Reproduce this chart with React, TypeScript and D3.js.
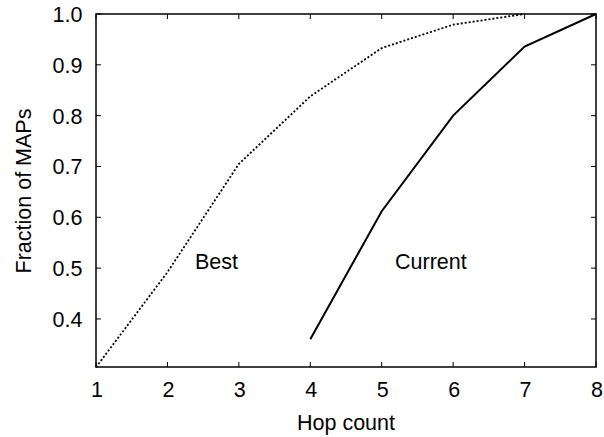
import React from "react";
import * as d3 from "d3";

const hops = [1, 2, 3, 4, 5, 6, 7, 8];
const bestX = [1, 2, 3, 4, 5, 6, 7];
const bestY = [0.305, 0.492, 0.705, 0.838, 0.933, 0.979, 1.0];
const currentX = [4, 5, 6, 7, 8];
const currentY = [0.36, 0.612, 0.8, 0.936, 1.0];
const yTicks = [0.4, 0.5, 0.6, 0.7, 0.8, 0.9, 1.0];

const W = 604, H = 437;
const L = 96, R = 596, T = 14, B = 367;

export default function App() {
  const x = d3.scaleLinear().domain([1, 8]).range([L, R]);
  const y = d3.scaleLinear().domain([0.3055, 1.0]).range([B, T]);
  const line = d3.line<[number, number]>().x(d => x(d[0])).y(d => y(d[1]));
  const bestPts = bestX.map((v, i) => [v, bestY[i]] as [number, number]);
  const curPts = currentX.map((v, i) => [v, currentY[i]] as [number, number]);
  const font = "Liberation Sans, Arial, Helvetica, sans-serif";
  const fs = 21.5;
  const tl = 5;
  return (
    <svg width={W} height={H} style={{ position: "absolute", left: 0, top: 0 }} fontFamily={font}>
      <rect x={0} y={0} width={W} height={H} fill="white" />
      {hops.map(h => (
        <g key={"x" + h}>
          <line x1={x(h)} x2={x(h)} y1={B} y2={B - tl} stroke="#000" strokeWidth={1} />
          <line x1={x(h)} x2={x(h)} y1={T} y2={T + tl} stroke="#000" strokeWidth={1} />
          <text x={x(h) + 1} y={397} textAnchor="middle" fontSize={fs} fill="#000">{h}</text>
        </g>
      ))}
      {yTicks.map(t => (
        <g key={"y" + t}>
          <line x1={L} x2={L + tl} y1={y(t)} y2={y(t)} stroke="#000" strokeWidth={1} />
          <line x1={R} x2={R - tl} y1={y(t)} y2={y(t)} stroke="#000" strokeWidth={1} />
          <text x={82.5} y={y(t) + 8} textAnchor="end" fontSize={fs} fill="#000">{t.toFixed(1)}</text>
        </g>
      ))}
      <path d={line(bestPts) || ""} fill="none" stroke="#000" strokeWidth={1.8} strokeDasharray="2,2" />
      <path d={line(curPts) || ""} fill="none" stroke="#000" strokeWidth={2} />
      <rect x={L} y={T} width={R - L} height={B - T} fill="none" stroke="#000" strokeWidth={1.5} />
      <text x={195} y={269} fontSize={fs} fill="#000">Best</text>
      <text x={395} y={269} fontSize={fs} fill="#000">Current</text>
      <text x={346} y={430} textAnchor="middle" fontSize={fs} fill="#000">Hop count</text>
      <text transform={`translate(30.5,191) rotate(-90)`} textAnchor="middle" fontSize={fs} fill="#000">Fraction of MAPs</text>
    </svg>
  );
}
